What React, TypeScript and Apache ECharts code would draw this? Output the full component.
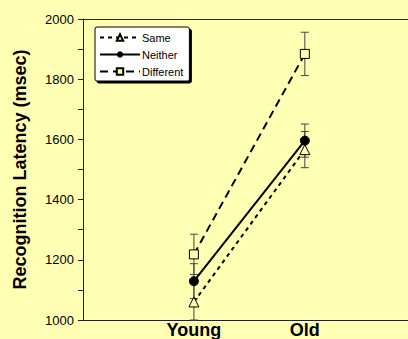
import React, { useEffect, useRef } from "react";
import * as echarts from "echarts";

const categories = ["Young", "Old"];
const seriesNames = ["Same", "Neither", "Different"];
const sameValues = [1060, 1566];
const neitherValues = [1129, 1596];
const differentValues = [1218, 1884];
const sameErr = [60, 60];
const neitherErr = [58, 55];
const differentErr = [67, 72];
const yTicks = [1000, 1200, 1400, 1600, 1800, 2000];

const BG = "#ffffb3";

export default function App() {
  const ref = useRef<HTMLDivElement>(null);
  useEffect(() => {
    if (!ref.current) return;
    const chart = echarts.init(ref.current, null, { renderer: "svg" });
    const toPts = (vals: number[]) => vals.map((v, i) => [i + 1, v]);
    const errData = (vals: number[], errs: number[]) =>
      vals.map((v, i) => [i + 1, v - errs[i], v + errs[i]]);
    const allErr = [
      ...errData(sameValues, sameErr),
      ...errData(neitherValues, neitherErr),
      ...errData(differentValues, differentErr),
    ];
    const font = "'Liberation Sans', Arial, sans-serif";
    chart.setOption({
      animation: false,
      backgroundColor: BG,
      textStyle: { fontFamily: font },
      grid: { left: 83, top: 19, bottom: 18, right: 0 },
      legend: {
        orient: "vertical",
        left: 95,
        top: 27,
        data: seriesNames,
        itemWidth: 40,
        itemHeight: 8,
        itemGap: 6,
        padding: [5, 6, 4, 4],
        backgroundColor: "#ffffff",
        borderColor: "#000",
        borderWidth: 1,
        borderRadius: 2,
        shadowColor: "#000",
        shadowOffsetX: 2,
        shadowOffsetY: 2,
        shadowBlur: 0,
        textStyle: { fontSize: 11, color: "#000", fontFamily: font, padding: [0, 0, 0, -3] },
      },
      xAxis: [
        {
          type: "value",
          min: 0,
          max: 2.93,
          interval: 1,
          axisLine: { show: true, onZero: false, lineStyle: { color: "#222", width: 1 } },
          axisTick: { show: false },
          splitLine: { show: false },
          axisLabel: {
            margin: 1,
            fontSize: 18,
            fontWeight: "bold",
            color: "#000",
            fontFamily: font,
            showMaxLabel: false,
            formatter: (v: number) => categories[v - 1] ?? "",
          },
        },
        {
          type: "value",
          position: "top",
          min: 0,
          max: 2.93,
          axisLine: { show: true, onZero: false, lineStyle: { color: "#222", width: 1 } },
          axisTick: { show: false },
          splitLine: { show: false },
          axisLabel: { show: false },
        },
      ],
      yAxis: {
        type: "value",
        min: 1000,
        max: 2000,
        interval: 100,
        name: "Recognition Latency (msec)",
        nameLocation: "middle",
        nameGap: 54,
        nameTextStyle: { fontSize: 18, fontWeight: "bold", color: "#000", fontFamily: font },
        axisLine: { show: true, lineStyle: { color: "#222", width: 1 } },
        axisTick: { show: true, length: 5, lineStyle: { color: "#222" } },
        splitLine: { show: false },
        axisLabel: {
          margin: 9,
          fontSize: 13,
          color: "#000",
          fontFamily: font,
          formatter: (v: number) => (yTicks.includes(v) ? String(v) : ""),
        },
      },
      series: [
        {
          type: "custom",
          name: "err",
          silent: true,
          z: 1,
          data: allErr,
          renderItem: (params: any, api: any) => {
            const x = api.value(0);
            const lo = api.coord([x, api.value(1)]);
            const hi = api.coord([x, api.value(2)]);
            const hw = 4;
            const st = { stroke: "#444", lineWidth: 1 };
            return {
              type: "group",
              children: [
                { type: "line", shape: { x1: lo[0], y1: lo[1], x2: hi[0], y2: hi[1] }, style: st },
                { type: "line", shape: { x1: lo[0] - hw, y1: lo[1], x2: lo[0] + hw, y2: lo[1] }, style: st },
                { type: "line", shape: { x1: hi[0] - hw, y1: hi[1], x2: hi[0] + hw, y2: hi[1] }, style: st },
              ],
            };
          },
        },
        {
          type: "line",
          name: "Same",
          data: toPts(sameValues),
          z: 3,
          symbol: "triangle",
          symbolSize: 10,
          itemStyle: { color: BG, borderColor: "#000", borderWidth: 1 },
          lineStyle: { color: "#000", width: 2, type: [4, 4] },
        },
        {
          type: "line",
          name: "Neither",
          data: toPts(neitherValues),
          z: 4,
          symbol: "circle",
          symbolSize: 9,
          itemStyle: { color: "#000", borderColor: "#000" },
          lineStyle: { color: "#000", width: 2, type: "solid" },
        },
        {
          type: "line",
          name: "Different",
          data: toPts(differentValues),
          z: 3,
          symbol: "rect",
          symbolSize: 9,
          itemStyle: { color: BG, borderColor: "#000", borderWidth: 1 },
          lineStyle: { color: "#000", width: 2, type: [8, 5] },
        },
      ],
    });
    return () => chart.dispose();
  }, []);
  return <div ref={ref} style={{ width: 408, height: 339, position: "fixed", left: 0, top: 0 }} />;
}
